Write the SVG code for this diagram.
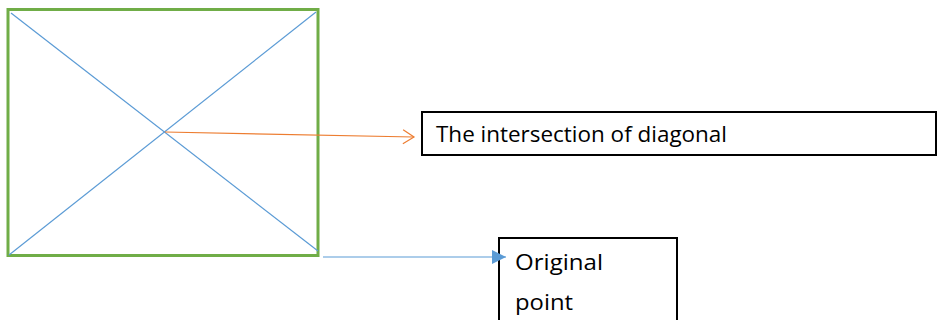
<svg xmlns="http://www.w3.org/2000/svg" width="939" height="320" viewBox="0 0 939 320">
<style>
.box{fill:#fff;stroke:#000;stroke-width:2}
.lbl{font-family:"Open Sans","Liberation Sans",sans-serif;font-size:22px;fill:#000}
.diag{stroke:#5B9BD5;stroke-width:1.2;fill:none}
</style>
<defs>
<marker id="open" markerWidth="14" markerHeight="16" refX="12" refY="8" orient="auto" markerUnits="userSpaceOnUse">
<path d="M1,1 L12,8 L1,15" fill="none" stroke="#ED7D31" stroke-width="1.2"/>
</marker>
<marker id="tri" markerWidth="16" markerHeight="16" refX="14" refY="8" orient="auto" markerUnits="userSpaceOnUse">
<path d="M0,1 L14,8 L0,15 Z" fill="#5B9BD5"/>
</marker>
</defs>
<g id="square">
<rect x="8" y="9.5" width="310" height="246" fill="#fff" stroke="#70AD47" stroke-width="3"/>
<line class="diag" x1="11" y1="13" x2="318" y2="251"/>
<line class="diag" x1="316" y1="12" x2="9" y2="255"/>
</g>
<g id="intersection">
<rect class="box" x="422" y="112" width="514" height="43"/>
<text class="lbl" x="436" y="142" textLength="291" lengthAdjust="spacingAndGlyphs">The intersection of diagonal</text>
</g>
<g id="origin">
<rect class="box" x="499" y="238" width="178" height="90"/>
<text class="lbl" x="515" y="270" textLength="88" lengthAdjust="spacingAndGlyphs">Original</text>
<text class="lbl" x="515" y="310" textLength="58" lengthAdjust="spacingAndGlyphs">point</text>
</g>
<g id="connectors">
<line x1="165" y1="132" x2="414" y2="137" stroke="#ED7D31" stroke-width="1.2" marker-end="url(#open)"/>
<line x1="323" y1="257" x2="506" y2="257" stroke="#5B9BD5" stroke-width="1.2" marker-end="url(#tri)"/>
</g>
</svg>
